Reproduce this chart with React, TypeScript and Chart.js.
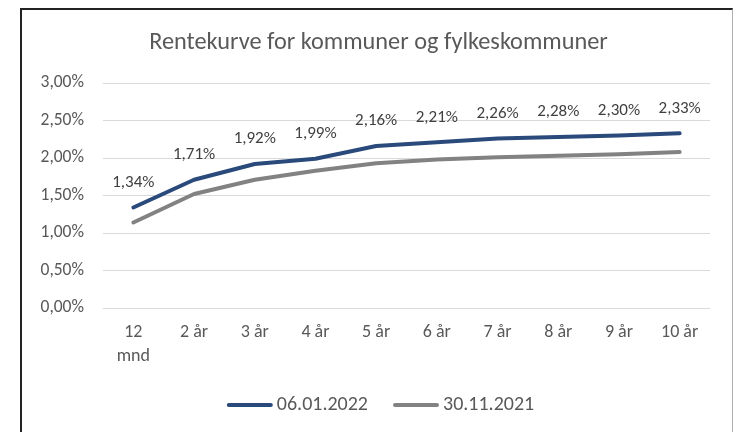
import React, { useEffect, useRef } from 'react';
import { Chart, registerables } from 'chart.js';

Chart.register(...registerables);

const categories: (string | string[])[] = [['12', 'mnd'], '2 år', '3 år', '4 år', '5 år', '6 år', '7 år', '8 år', '9 år', '10 år'];
const series2022 = [1.34, 1.71, 1.92, 1.99, 2.16, 2.21, 2.26, 2.28, 2.30, 2.33];
const series2021 = [1.14, 1.52, 1.71, 1.83, 1.93, 1.98, 2.01, 2.03, 2.05, 2.08];
const seriesNames = ['06.01.2022', '30.11.2021'];
const titleText = 'Rentekurve for kommuner og fylkeskommuner';
const yMin = 0;
const yMax = 3;
const yStep = 0.5;

const FONT = 'Carlito, Calibri, Lato, sans-serif';
const BLUE = '#2A4A7C';
const GRAY = '#828282';
const TEXT = '#595959';

const fmt = (v: number) => v.toFixed(2).replace('.', ',') + '%';

const dataLabelPlugin = {
  id: 'dataLabels',
  afterDatasetsDraw(chart: any) {
    const ctx = chart.ctx;
    const meta = chart.getDatasetMeta(0);
    ctx.save();
    ctx.font = `17px ${FONT}`;
    ctx.fillStyle = '#404040';
    ctx.textAlign = 'center';
    ctx.textBaseline = 'middle';
    meta.data.forEach((pt: any, i: number) => {
      ctx.fillText(fmt(series2022[i]), pt.x, pt.y - 25);
    });
    ctx.restore();
  },
};

const titleLegendPlugin = {
  id: 'titleLegend',
  afterDraw(chart: any) {
    const ctx = chart.ctx;
    const area = chart.chartArea;
    const centerX = (area.left + area.right) / 2 - 28;
    ctx.save();
    // title
    ctx.font = `24.3px ${FONT}`;
    ctx.fillStyle = TEXT;
    ctx.textAlign = 'center';
    ctx.textBaseline = 'middle';
    ctx.fillText(titleText, centerX, 43);
    // legend
    const datasets = chart.data.datasets;
    const boxW = 46;
    const gap = 4;
    const itemGap = 25;
    ctx.font = `20px ${FONT}`;
    const widths = datasets.map((ds: any) => ctx.measureText(ds.label).width);
    const total = widths.reduce((a: number, w: number) => a + boxW + gap + w, 0) + itemGap * (datasets.length - 1);
    const cy = chart.height - 27;
    let x = centerX + 2 - total / 2;
    datasets.forEach((ds: any, i: number) => {
      ctx.strokeStyle = ds.borderColor;
      ctx.lineWidth = 4;
      ctx.lineCap = 'round';
      ctx.beginPath();
      ctx.moveTo(x + 2, cy);
      ctx.lineTo(x + boxW - 2, cy);
      ctx.stroke();
      ctx.fillStyle = TEXT;
      ctx.textAlign = 'left';
      ctx.textBaseline = 'middle';
      ctx.fillText(ds.label, x + boxW + gap, cy);
      x += boxW + gap + widths[i] + itemGap;
    });
    ctx.restore();
  },
};

export default function App() {
  const ref = useRef<HTMLCanvasElement | null>(null);

  useEffect(() => {
    if (!ref.current) return;
    const chart = new Chart(ref.current, {
      type: 'line',
      data: {
        labels: categories as any,
        datasets: [
          {
            label: seriesNames[0],
            data: series2022,
            borderColor: BLUE,
            backgroundColor: BLUE,
            borderWidth: 4,
            pointRadius: 0,
            tension: 0,
            borderCapStyle: 'round',
            borderJoinStyle: 'round',
          },
          {
            label: seriesNames[1],
            data: series2021,
            borderColor: GRAY,
            backgroundColor: GRAY,
            borderWidth: 4,
            pointRadius: 0,
            tension: 0,
            borderCapStyle: 'round',
            borderJoinStyle: 'round',
          },
        ],
      },
      options: {
        responsive: false,
        animation: false,
        layout: { padding: { left: 30, right: 25, top: 83, bottom: 48 } },
        plugins: {
          title: { display: false },
          legend: { display: false },
          tooltip: { enabled: false },
        },
        scales: {
          x: {
            offset: true,
            grid: { display: false, drawTicks: false },
            border: { display: false },
            ticks: {
              color: TEXT,
              font: { family: FONT, size: 18, lineHeight: 1.3 },
              padding: 13,
              maxRotation: 0,
              autoSkip: false,
            },
            afterFit: (scale: any) => {
              scale.height = 76;
            },
          },
          y: {
            min: yMin,
            max: yMax,
            grid: { color: '#D9D9D9', lineWidth: 1, drawTicks: false },
            border: { display: false },
            ticks: {
              stepSize: yStep,
              color: TEXT,
              font: { family: FONT, size: 17.5 },
              padding: 19,
              callback: (v: any) => fmt(Number(v)),
            },
            afterFit: (scale: any) => {
              scale.width = 73;
            },
          },
        },
      },
      plugins: [dataLabelPlugin, titleLegendPlugin],
    });
    return () => chart.destroy();
  }, []);

  return (
    <div style={{ position: 'absolute', left: 0, top: 0, width: 735, height: 432, overflow: 'hidden', background: '#fff' }}>
      <canvas ref={ref} width={735} height={432} style={{ position: 'absolute', left: 0, top: 0, width: 735, height: 432 }} />
      <div
        style={{
          position: 'absolute',
          left: 20,
          top: 8,
          width: 713,
          height: 440,
          boxSizing: 'border-box',
          borderLeft: '2px solid #222',
          borderTop: '2px solid #222',
          borderRight: '1px solid #B0B0B0',
          pointerEvents: 'none',
        }}
      />
    </div>
  );
}
